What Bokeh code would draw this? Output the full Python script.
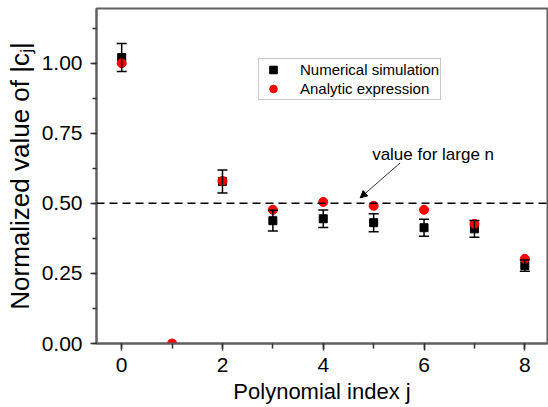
import numpy as np
from bokeh.plotting import figure
from bokeh.models import (ColumnDataSource, Whisker, TeeHead, Span, Label, Arrow, NormalHead,
                          SingleIntervalTicker, Range1d, NumeralTickFormatter)
from bokeh.embed import file_html
from bokeh.resources import INLINE

# ---- data ----
j_index = np.array([0, 1, 2, 3, 4, 5, 6, 7, 8], dtype=float)
numerical = np.array([1.020, np.nan, 0.578, 0.438, 0.445, 0.431, 0.413, 0.409, 0.278])
numerical_err = np.array([0.050, np.nan, 0.041, 0.037, 0.031, 0.032, 0.030, 0.030, 0.020])
analytic = np.array([1.000, 0.000, 0.580, 0.477, 0.505, 0.491, 0.477, 0.427, 0.302])
large_n_value = 0.5
series_names = ["Numerical simulation", "Analytic expression"]
annotation_text = "value for large n"
x_label = "Polynomial index j"
y_label = "Normalized value of |c\u2c7c|"

FONT = "Liberation Sans"
AXIS_GRAY = "#606060"

num_src = ColumnDataSource(dict(x=j_index, y=numerical,
                                upper=numerical + numerical_err,
                                lower=numerical - numerical_err))
ana_src = ColumnDataSource(dict(x=j_index, y=analytic))

p = figure(width=548, height=407, output_backend="svg", toolbar_location=None,
           x_range=Range1d(-0.5, 8.45), y_range=Range1d(0, 1.195),
           min_border_left=96, min_border_right=1, min_border_top=8, min_border_bottom=64)

p.xgrid.visible = False
p.ygrid.visible = False
p.outline_line_color = AXIS_GRAY
p.outline_line_width = 2

# axes
p.xaxis.ticker = SingleIntervalTicker(interval=2, num_minor_ticks=2)
p.yaxis.ticker = SingleIntervalTicker(interval=0.25, num_minor_ticks=2)
p.yaxis.formatter = NumeralTickFormatter(format="0.00")
for ax in (p.xaxis[0], p.yaxis[0]):
    ax.axis_line_color = AXIS_GRAY
    ax.axis_line_width = 2
    ax.major_tick_line_color = "#303030"
    ax.minor_tick_line_color = "#303030"
    ax.major_tick_line_width = 1.5
    ax.minor_tick_line_width = 1.5
    ax.major_tick_in = 0
    ax.minor_tick_in = 0
    ax.major_label_text_font = FONT
    ax.major_label_text_font_size = "21px"
    ax.major_label_text_color = "black"
    ax.axis_label_text_font = FONT
    ax.axis_label_text_font_style = "normal"
    ax.axis_label_text_color = "black"
p.xaxis.major_tick_out = 7
p.xaxis.minor_tick_out = 5
p.yaxis.major_tick_out = 6
p.yaxis.minor_tick_out = 4
p.xaxis.major_label_standoff = 7
p.yaxis.major_label_standoff = 8

p.xaxis.axis_label = x_label
p.xaxis.axis_label_text_font_size = "22px"
p.xaxis.axis_label_standoff = 4

p.yaxis.axis_label = y_label
p.yaxis.axis_label_text_font_size = "26px"
p.yaxis.axis_label_standoff = 4

# reference line
p.add_layout(Span(location=large_n_value, dimension="width", line_color="black",
                  line_width=1.5, line_dash="8 5"))

# data
p.add_layout(Whisker(source=num_src, base="x", upper="upper", lower="lower",
                     line_color="black", line_width=1.5, level="glyph",
                     upper_head=TeeHead(size=10, line_color="black", line_width=1.5),
                     lower_head=TeeHead(size=10, line_color="black", line_width=1.5)))
r_num = p.scatter("x", "y", source=num_src, marker="square", size=8,
                  fill_color="black", line_color="black", legend_label=series_names[0])
r_ana = p.scatter("x", "y", source=ana_src, marker="circle", size=9,
                  fill_color="#ff0000", line_color="#ff0000", legend_label=series_names[1])

# annotation
p.add_layout(Label(x=4.97, y=0.6726, text=annotation_text, text_font=FONT,
                   text_font_size="17px", text_baseline="alphabetic", text_color="black"))
p.add_layout(Arrow(x_start=5.525, y_start=0.644, x_end=4.733, y_end=0.5196,
                   line_color="#303030", line_width=1,
                   end=NormalHead(size=7, fill_color="black", line_color="black")))

# legend
lg = p.legend[0]
lg.location = (162, 243)
lg.border_line_color = "#909090"
lg.border_line_width = 1
lg.background_fill_color = "white"
lg.background_fill_alpha = 1
lg.padding = 1
lg.margin = 0
lg.glyph_width = 26
lg.glyph_height = 19
lg.label_height = 19
lg.spacing = -1
lg.label_standoff = 14
lg.label_text_font = FONT
lg.label_text_font_size = "15px"
lg.label_text_color = "black"

open("out.html", "w").write(file_html(p, INLINE))
